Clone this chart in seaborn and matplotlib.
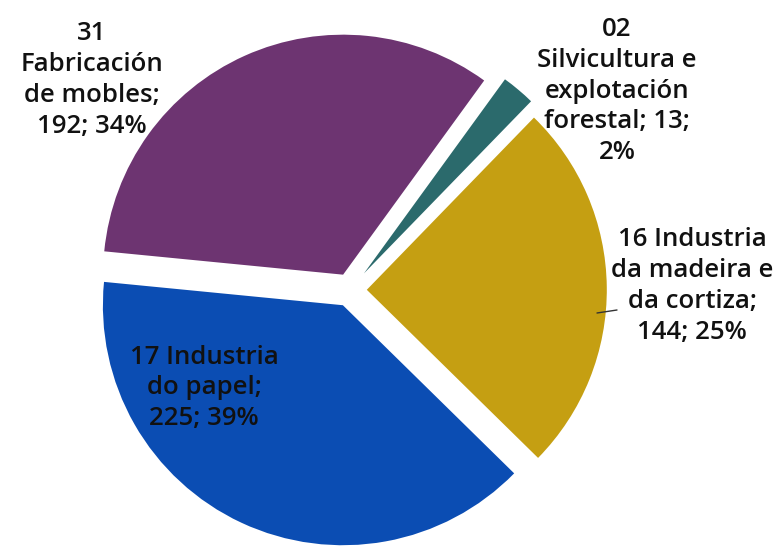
import matplotlib
matplotlib.use("Agg")
import matplotlib.pyplot as plt
import seaborn as sns

# data
codes = ["02", "16", "17", "31"]
values = [13, 144, 225, 192]
pct_labels = ["2%", "25%", "39%", "34%"]  # as printed in the reference
colors = ["#2B6A6C", "#C59F12", "#0B4DB3", "#6D3471"]

sns.set_theme(style="white")
plt.rcParams["font.family"] = ["Open Sans", "DejaVu Sans"]

fig = plt.figure(figsize=(7.78, 5.47), dpi=100)
ax = fig.add_axes([0, 0, 1, 1])

wedges, _ = ax.pie(values, colors=colors, startangle=54, counterclock=False,
                   explode=[0.09, 0.07, 0.07, 0.07], radius=1.0,
                   wedgeprops=dict(linewidth=0))

# pixel (px, py from top) -> data coords, centre at (350, 290), r = 240 px
def to_data(px, py):
    return (px - 350) / 240, (290 - py) / 240

texts = [
    f"{codes[0]}\nSilvicultura e\nexplotación\nforestal; {values[0]};\n{pct_labels[0]}",
    f"{codes[1]} Industria\nda madeira e\nda cortiza;\n{values[1]}; {pct_labels[1]}",
    f"{codes[2]} Industria\ndo papel;\n{values[2]}; {pct_labels[2]}",
    f"{codes[3]}\nFabricación\nde mobles;\n{values[3]}; {pct_labels[3]}",
]
positions = [(617, 91), (692, 286), (204, 388), (92, 80)]

for txt, pos in zip(texts, positions):
    x, y = to_data(*pos)
    ax.text(x, y, txt, ha="center", va="center", fontsize=18.5,
            linespacing=1.3, color="#111111", fontweight="semibold")

# leader line for the 16 label
x0, y0 = to_data(597, 313)
x1, y1 = to_data(617, 310)
ax.plot([x0, x1], [y0, y1], color="#333333", lw=1)

ax.set_xlim(-350 / 240, 428 / 240)
ax.set_ylim(-257 / 240, 290 / 240)
ax.set_aspect("equal")
ax.axis("off")

fig.savefig("out.png", dpi=100)
